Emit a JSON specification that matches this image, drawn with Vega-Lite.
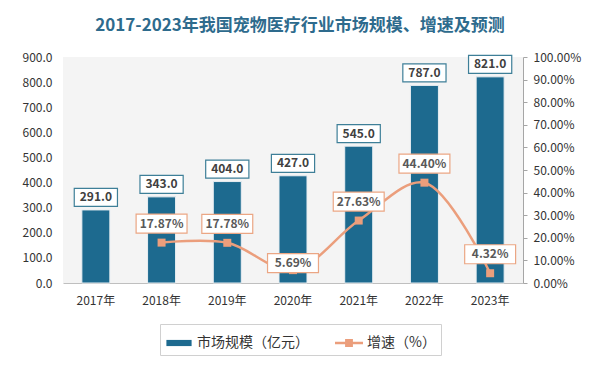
{
  "$schema": "https://vega.github.io/schema/vega-lite/v6.json",
  "width": 460,
  "height": 226,
  "autosize": {"type": "none"},
  "padding": {"left": 63, "top": 57, "right": 77, "bottom": 84},
  "background": "white",
  "title": {
    "text": "2017-2023年我国宠物医疗行业市场规模、增速及预测",
    "fontSize": 17,
    "fontWeight": "bold",
    "color": "#2e6b8d",
    "font": "Noto Sans CJK SC",
    "anchor": "middle",
    "dx": 7,
    "offset": 16
  },
  "config": {
    "font": "Noto Sans CJK SC",
    "view": {"stroke": null, "fill": "#f4f4f4"},
    "axis": {"grid": false, "labelFont": "Noto Sans CJK SC", "labelFontSize": 12, "labelColor": "#333333"},
    "legend": {
      "orient": "none",
      "legendX": 97,
      "legendY": 267,
      "direction": "horizontal",
      "strokeColor": "#d0d0d0",
      "padding": 5,
      "labelFontSize": 14,
      "labelColor": "#333333",
      "symbolSize": 784,
      "columnPadding": 26,
      "title": null
    }
  },
  "data": {
    "values": [
      {"year": "2017年", "size": 291.0, "growth": null},
      {"year": "2018年", "size": 343.0, "growth": 0.1787},
      {"year": "2019年", "size": 404.0, "growth": 0.1778},
      {"year": "2020年", "size": 427.0, "growth": 0.0569},
      {"year": "2021年", "size": 545.0, "growth": 0.2763},
      {"year": "2022年", "size": 787.0, "growth": 0.4440},
      {"year": "2023年", "size": 821.0, "growth": 0.0432}
    ]
  },
  "encoding": {
    "x": {
      "field": "year",
      "type": "ordinal",
      "sort": null,
      "scale": {"paddingInner": 0.574, "paddingOuter": 0.287},
      "axis": {"title": null, "labelAngle": 0, "ticks": false, "domainColor": "#bfbfbf", "labelPadding": 12}
    }
  },
  "layer": [
    {
      "encoding": {
        "y": {
          "field": "size",
          "type": "quantitative",
          "scale": {"domain": [0, 900]},
          "axis": {
            "title": null,
            "values": [0, 100, 200, 300, 400, 500, 600, 700, 800, 900],
            "format": ".1f",
            "domain": false,
            "ticks": false,
            "labelPadding": 11
          }
        }
      },
      "layer": [
        {
          "mark": {"type": "bar", "stroke": "#e8eef2", "strokeWidth": 1},
          "encoding": {
            "color": {
              "datum": "市场规模（亿元）",
              "scale": {"domain": ["市场规模（亿元）", "增速（%）"], "range": ["#1d6a8f", "#eb9e7c"]},
              "legend": {
                "symbolType": {"expr": "datum.value === '增速（%）' ? 'M-1,-0.09H1V0.09H-1Z M-0.28,-0.28H0.28V0.28H-0.28Z' : 'M-0.9,-0.22H0.9V0.22H-0.9Z'"},
                "symbolStrokeWidth": 0,
                "symbolOpacity": 1
              }
            }
          }
        },
        {
          "mark": {"type": "point", "shape": "M-1.2,-0.5H1.2V0.5H-1.2Z", "size": 1296, "filled": true, "fill": "white", "stroke": "#3e7f98", "strokeWidth": 1.2, "opacity": 1, "yOffset": -12.5}
        },
        {
          "mark": {"type": "text", "fontWeight": "bold", "fontSize": 12, "color": "#404040", "baseline": "middle", "yOffset": -12.5},
          "encoding": {"text": {"field": "size", "type": "quantitative", "format": ".1f"}}
        }
      ]
    },
    {
      "transform": [{"filter": "isValid(datum.growth)"}],
      "encoding": {
        "y": {
          "field": "growth",
          "type": "quantitative",
          "scale": {"domain": [0, 1]},
          "axis": {
            "title": null,
            "orient": "right",
            "values": [0, 0.1, 0.2, 0.3, 0.4, 0.5, 0.6, 0.7, 0.8, 0.9, 1.0],
            "format": ".2%",
            "domainColor": "#a6a6a6",
            "tickColor": "#a6a6a6",
            "tickSize": 4,
            "labelPadding": 6
          }
        }
      },
      "layer": [
        {
          "mark": {"type": "line", "interpolate": "catmull-rom", "strokeWidth": 2.5},
          "encoding": {"color": {"datum": "增速（%）"}}
        },
        {
          "mark": {"type": "point", "shape": "square", "filled": true, "size": 64, "color": "#eb9e7c", "opacity": 1}
        },
        {
          "transform": [{"filter": "datum.year !== '2020年'"}],
          "layer": [
            {
              "mark": {"type": "point", "shape": "M-1.34,-0.5H1.34V0.5H-1.34Z", "size": 1444, "filled": true, "fill": "white", "stroke": "#eba684", "strokeWidth": 1.2, "opacity": 1, "yOffset": -19}
            },
            {
              "mark": {"type": "text", "fontWeight": "bold", "fontSize": 12, "color": "#595959", "baseline": "middle", "yOffset": -19},
              "encoding": {"text": {"field": "growth", "type": "quantitative", "format": ".2%"}}
            }
          ]
        },
        {
          "transform": [{"filter": "datum.year === '2020年'"}],
          "layer": [
            {
              "mark": {"type": "point", "shape": "M-1.34,-0.5H1.34V0.5H-1.34Z", "size": 1444, "filled": true, "fill": "white", "stroke": "#eba684", "strokeWidth": 1.2, "opacity": 1, "yOffset": -7}
            },
            {
              "mark": {"type": "text", "fontWeight": "bold", "fontSize": 12, "color": "#595959", "baseline": "middle", "yOffset": -7},
              "encoding": {"text": {"field": "growth", "type": "quantitative", "format": ".2%"}}
            }
          ]
        }
      ]
    }
  ],
  "resolve": {"scale": {"y": "independent"}}
}
